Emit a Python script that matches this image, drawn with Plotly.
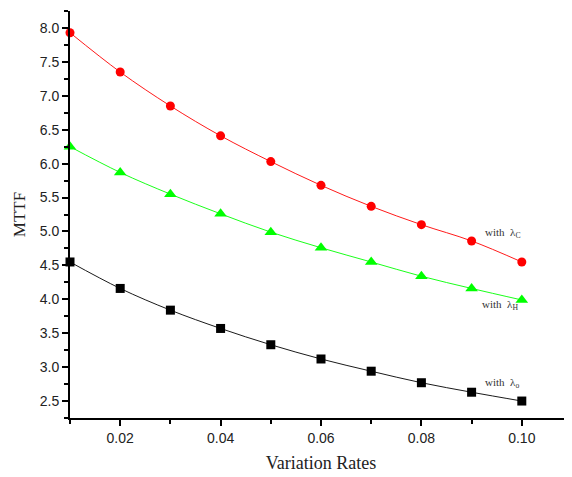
import plotly.graph_objects as go

rates = [0.01, 0.02, 0.03, 0.04, 0.05, 0.06, 0.07, 0.08, 0.09, 0.10]
mttf_c = [7.93, 7.35, 6.85, 6.41, 6.03, 5.68, 5.37, 5.10, 4.86, 4.55]
mttf_h = [6.25, 5.87, 5.55, 5.26, 4.99, 4.76, 4.55, 4.34, 4.16, 3.99]
mttf_o = [4.55, 4.16, 3.84, 3.57, 3.33, 3.12, 2.94, 2.77, 2.63, 2.50]
x_ticks = [0.02, 0.04, 0.06, 0.08, 0.10]
x_ticklabels = ["0.02", "0.04", "0.06", "0.08", "0.10"]
y_ticks = [2.5, 3.0, 3.5, 4.0, 4.5, 5.0, 5.5, 6.0, 6.5, 7.0, 7.5, 8.0]

fig = go.Figure()
series = [
    (mttf_c, "#ff0000", "circle", 9),
    (mttf_h, "#00ff00", "triangle-up", 11),
    (mttf_o, "#000000", "square", 9),
]
for vals, col, sym, sz in series:
    fig.add_trace(go.Scatter(
        x=rates, y=vals, mode="lines+markers",
        line=dict(color=col, width=0.9, shape="spline"),
        marker=dict(color=col, symbol=sym, size=sz),
        cliponaxis=False, showlegend=False,
    ))

labels = [
    (0.0963, 4.97, "with  λ<sub>C</sub>"),
    (0.0956, 3.92, "with  λ<sub>H</sub>"),
    (0.0961, 2.77, "with  λ<sub>o</sub>"),
]
for x, y, t in labels:
    fig.add_annotation(x=x, y=y, text=t, showarrow=False,
                       font=dict(family="Liberation Serif", size=11, color="#333333"))

fig.update_layout(
    width=564, height=469,
    margin=dict(l=62, r=0, t=3, b=59),
    plot_bgcolor="white", paper_bgcolor="white",
    font=dict(family="Liberation Sans", size=14, color="#222222"),
)
fig.update_xaxes(
    range=[0.01, 0.11], tickvals=x_ticks, ticktext=x_ticklabels,
    showgrid=False, zeroline=False, showline=True, linecolor="black", linewidth=2,
    ticks="outside", ticklen=6, tickwidth=1.5, tickcolor="black",
    minor=dict(ticks="outside", ticklen=4, dtick=0.01, tick0=0.01, tickcolor="black", showgrid=False),
    title=dict(text="Variation Rates", font=dict(family="Liberation Serif", size=18, color="#222222"), standoff=12),
)
fig.update_yaxes(
    range=[2.25, 8.25], tickvals=y_ticks, tickformat=".1f",
    showgrid=False, zeroline=False, showline=True, linecolor="black", linewidth=2,
    ticks="outside", ticklen=6, tickwidth=1.5, tickcolor="black",
    minor=dict(ticks="outside", ticklen=4, dtick=0.25, tick0=2.25, tickcolor="black", showgrid=False),
    title=dict(text="MTTF", font=dict(family="Liberation Serif", size=17, color="#222222"), standoff=10),
)
fig.write_html("out.html")
